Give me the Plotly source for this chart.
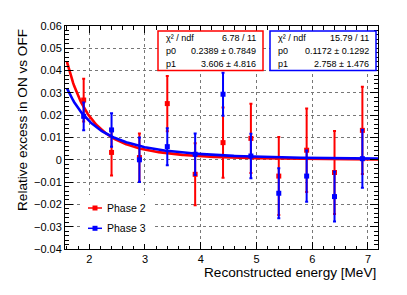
import numpy as np
import plotly.graph_objects as go

# ---- data ----
energy = [1.9, 2.4, 2.9, 3.4, 3.9, 4.4, 4.9, 5.4, 5.9, 6.4, 6.9]
phase2_y = [0.0268, 0.0033, 0.0010, 0.0252, -0.0065, 0.0077, 0.0096, -0.0073, 0.0043, -0.0057, 0.0132]
phase2_err = [0.0096, 0.0103, 0.0108, 0.0124, 0.0139, 0.0157, 0.0155, 0.0175, 0.0187, 0.0186, 0.0196]
phase3_y = [0.0195, 0.0134, 0.0000, 0.0059, 0.0025, 0.0294, 0.0017, -0.0150, -0.0073, -0.0165, 0.0005]
phase3_err = [0.0062, 0.0075, 0.0100, 0.0083, 0.0093, 0.0096, 0.0100, 0.0112, 0.0115, 0.0112, 0.0130]

# fit results: p0 * E^(-p1)
phase2_fit = [0.2389, 3.606]
phase3_fit = [0.1172, 2.758]
phase2_stats = ["6.78 / 11", "0.2389 \u00b1 0.7849", "3.606 \u00b1 4.816"]
phase3_stats = ["15.79 / 11", "0.1172 \u00b1 0.1292", "2.758 \u00b1 1.476"]
stat_names = ["\u03c7\u00b2 / ndf", "p0", "p1"]

y_tickvals = [0.06, 0.05, 0.04, 0.03, 0.02, 0.01, 0.0, -0.01, -0.02, -0.03, -0.04]
y_ticktext = ["0.06", "0.05", "0.04", "0.03", "0.02", "0.01", "0",
              "\u22120.01", "\u22120.02", "\u22120.03", "\u22120.04"]
x_tickvals = [2, 3, 4, 5, 6, 7]
x_ticktext = ["2", "3", "4", "5", "6", "7"]

RED = "#ff0000"
BLUE = "#0000ff"
FONT = "Liberation Sans, Arial, Helvetica, sans-serif"

W, H = 407, 295
L, R, T, B = 65, 378, 26, 249


def px(x):
    return (x - L) / (R - L)


def py(y):
    return (B - y) / (B - T)


fig = go.Figure()

xf = np.linspace(1.6, 7.18, 300)


def add_series(yv, ev, fit, color, name):
    fig.add_trace(go.Scatter(
        x=energy, y=yv, mode="markers", name=name,
        marker=dict(symbol="square", size=5, color=color),
        error_y=dict(type="data", array=ev, visible=True, color=color,
                     thickness=2, width=1.5),
        showlegend=False))
    fig.add_trace(go.Scatter(
        x=xf, y=fit[0] * xf ** (-fit[1]), mode="lines",
        line=dict(color=color, width=2.6), showlegend=False, hoverinfo="skip"))


add_series(phase2_y, phase2_err, phase2_fit, RED, "Phase 2")
add_series(phase3_y, phase3_err, phase3_fit, BLUE, "Phase 3")

shapes = []
annotations = []

# stats boxes
for (x0, x1, color, vals) in [(158, 263, RED, phase2_stats), (270, 376, BLUE, phase3_stats)]:
    shapes.append(dict(type="rect", xref="paper", yref="paper",
                       x0=px(x0), x1=px(x1), y0=py(70.5), y1=py(31),
                       line=dict(color=color, width=1.5), fillcolor="white", layer="above"))
    for i, (nm, v) in enumerate(zip(stat_names, vals)):
        yy = [37.7, 50.7, 63.5][i]
        annotations.append(dict(xref="paper", yref="paper", x=px(x0 + 6), y=py(yy),
                                xanchor="left", yanchor="middle", text=nm, showarrow=False,
                                font=dict(family=FONT, size=9, color="black")))
        annotations.append(dict(xref="paper", yref="paper", x=px(x1 - 5), y=py(yy),
                                xanchor="right", yanchor="middle", text=v, showarrow=False,
                                font=dict(family=FONT, size=9, color="black")))

# legend box
shapes.append(dict(type="rect", xref="paper", yref="paper",
                   x0=px(83), x1=px(155), y0=py(244), y1=py(195),
                   line=dict(width=0), fillcolor="white", layer="above"))
for (yy, color, name) in [(208, RED, "Phase 2"), (228.3, BLUE, "Phase 3")]:
    shapes.append(dict(type="line", xref="paper", yref="paper",
                       x0=px(88), x1=px(102), y0=py(yy), y1=py(yy),
                       line=dict(color=color, width=1.5), layer="above"))
    shapes.append(dict(type="rect", xref="paper", yref="paper",
                       x0=px(92.5), x1=px(97.5), y0=py(yy + 2.5), y1=py(yy - 2.5),
                       line=dict(width=0), fillcolor=color, layer="above"))
    annotations.append(dict(xref="paper", yref="paper", x=px(105), y=py(yy),
                            xanchor="left", yanchor="middle", text=name, showarrow=False,
                            font=dict(family=FONT, size=10.5, color="black")))

# axis titles
annotations.append(dict(xref="paper", yref="paper", x=1.0, y=py(272),
                        xanchor="right", yanchor="middle", showarrow=False,
                        text="Reconstructed energy [MeV]",
                        font=dict(family=FONT, size=13.6, color="black")))
annotations.append(dict(xref="paper", yref="paper", x=px(22), y=py(27),
                        xanchor="center", yanchor="top", textangle=-90, showarrow=False,
                        text="Relative excess in ON vs OFF",
                        font=dict(family=FONT, size=13.6, color="black")))

axis_common = dict(showline=True, linecolor="black", linewidth=1, mirror="allticks",
                   ticks="inside", tickcolor="black", tickwidth=1,
                   showgrid=True, gridcolor="#777", gridwidth=1, griddash="dot",
                   zeroline=False,
                   tickfont=dict(family=FONT, size=11, color="black"))

fig.update_layout(
    width=W, height=H,
    margin=dict(l=L, r=W - R, t=T, b=H - B),
    paper_bgcolor="white", plot_bgcolor="white",
    shapes=shapes, annotations=annotations,
    xaxis=dict(range=[1.565, 7.18], tickvals=x_tickvals, ticktext=x_ticktext, ticklen=7,
               minor=dict(ticks="inside", dtick=0.2, tick0=2, ticklen=3.5, tickcolor="black", showgrid=False),
               **axis_common),
    yaxis=dict(range=[-0.04, 0.06], tickvals=y_tickvals, ticktext=y_ticktext, ticklen=8,
               minor=dict(ticks="inside", dtick=0.002, tick0=0, ticklen=4, tickcolor="black", showgrid=False),
               **axis_common),
)

fig.write_html("out.html", config={"displayModeBar": False},
               post_script="document.body.style.margin='0';document.body.style.padding='0';")
